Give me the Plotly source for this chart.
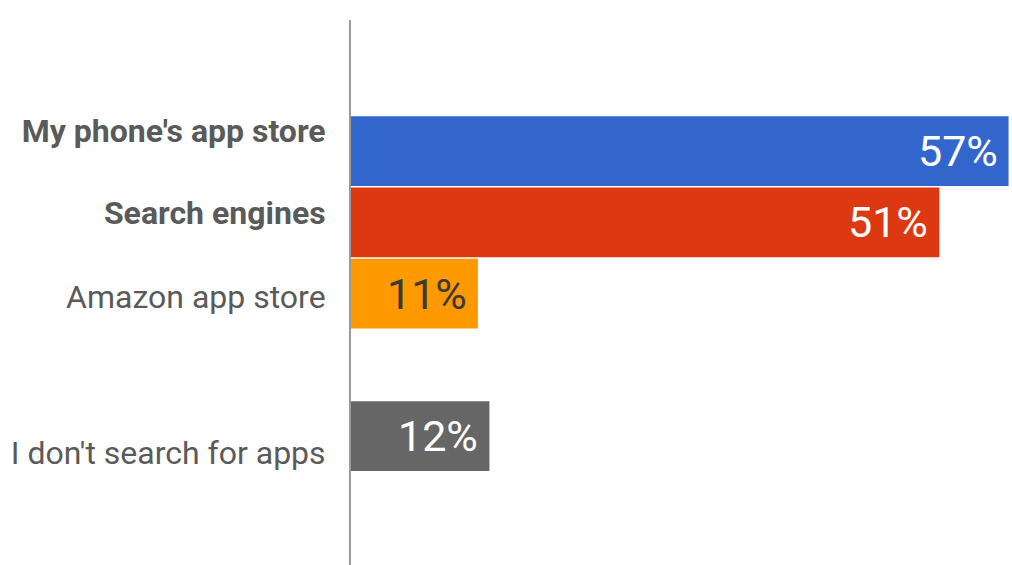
import plotly.graph_objects as go

# Survey answers: where people look for new apps
categories = ["My phone's app store", "Search engines", "Amazon app store", "", "I don't search for apps"]
bold = [True, True, False, False, False]
values = [57, 51, 11, None, 12]
colors = ["#3366CC", "#DC3912", "#FF9900", "#FFFFFF", "#666666"]
label_colors = ["#FFFFFF", "#FFFFFF", "#3a3a3a", "#FFFFFF", "#FFFFFF"]

positions = list(range(len(categories)))

fig = go.Figure(
    go.Bar(
        x=values,
        y=positions,
        orientation="h",
        marker=dict(color=colors, line=dict(width=0)),
        width=0.98,
        hoverinfo="skip",
    )
)

# value labels sit inside the end of each bar
for pos, v, c in zip(positions, values, label_colors):
    if v is None:
        continue
    fig.add_annotation(
        x=v, y=pos, xref="x", yref="y",
        text=f"{v}%",
        showarrow=False,
        xanchor="right", yanchor="middle",
        xshift=-9,
        font=dict(family="Roboto", size=43, color=c),
    )

# category labels are spaced on their own rhythm, a little apart from the bar rows
label_rows = [-0.28, 0.87, 2.04, 4.24]
label_text = [f"<b>{c}</b>" if b else c for c, b in zip(categories, bold) if c]

fig.update_layout(
    width=1012,
    height=565,
    margin=dict(l=351, r=0, t=20, b=0),
    paper_bgcolor="white",
    plot_bgcolor="white",
    showlegend=False,
    xaxis=dict(
        range=[0, 57.3],
        showgrid=False,
        zeroline=False,
        showticklabels=False,
        showline=False,
    ),
    yaxis=dict(
        range=[5.81, -1.84],
        tickmode="array",
        tickvals=label_rows,
        ticktext=label_text,
        tickfont=dict(family="Roboto", size=32, color="#5a5a5a"),
        ticklabelstandoff=17,
        showgrid=False,
        zeroline=False,
        showline=True,
        linecolor="#9a9a9a",
        linewidth=2,
        ticks="",
    ),
)

fig.write_html("out.html")
